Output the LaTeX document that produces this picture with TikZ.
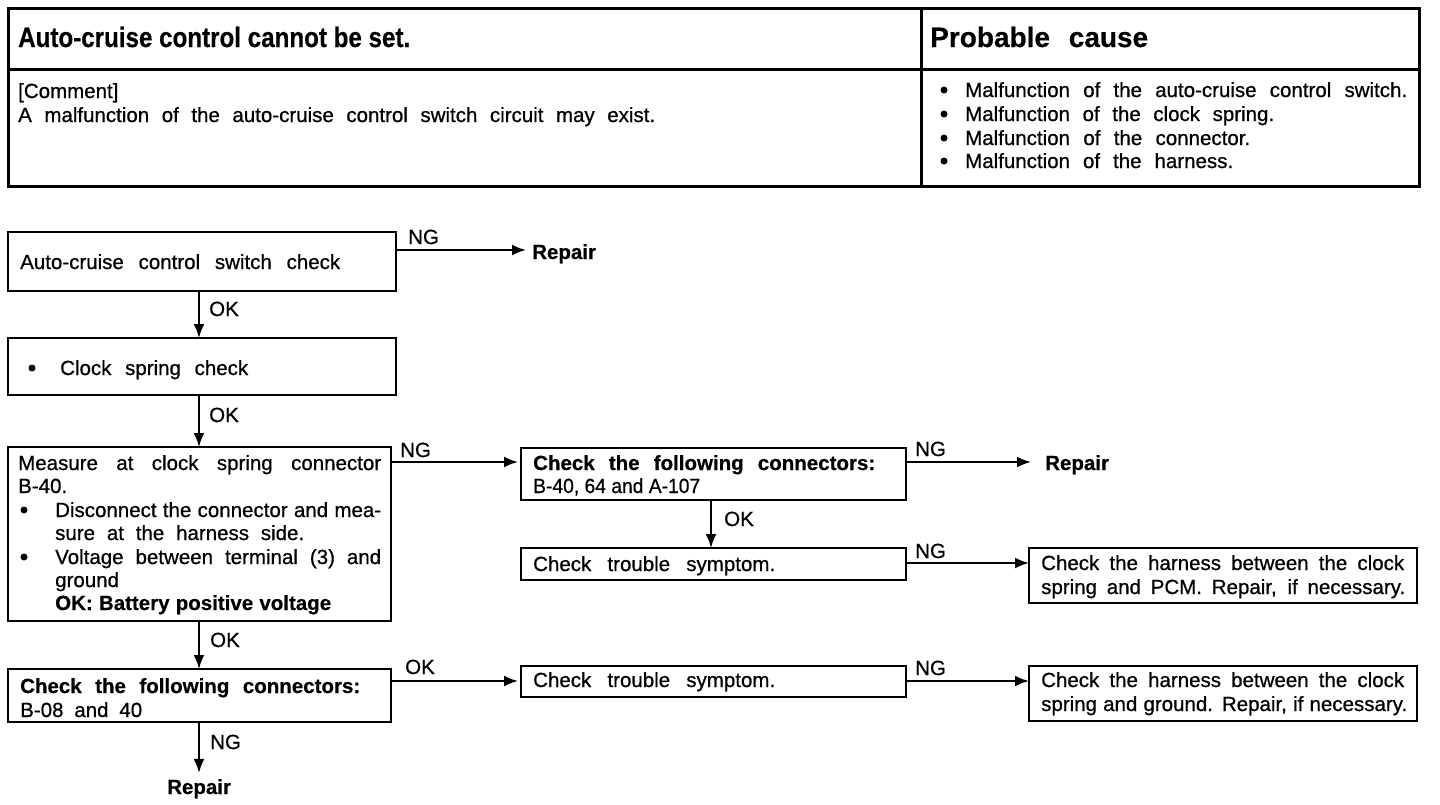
\documentclass[tikz,border=0pt]{standalone}
\usepackage{fontspec}
\setmainfont{Liberation Sans}
\newfontfamily\regf{Liberation Sans}[FakeBold=0.7]
\newfontfamily\boldf{Liberation Sans Bold}[FakeBold=0.5]
\usepackage{graphicx}
\usetikzlibrary{arrows.meta}
\newlength\fitnat
\newcommand\fitline[2]{\settowidth\fitnat{#2}\ifdim\fitnat>#1\relax\resizebox{#1}{\height}{#2}\else\makebox[#1][s]{#2}\fi}
\begin{document}
\begin{tikzpicture}[x=1pt,y=-1pt,
  box/.style={draw, line width=2.6pt, rectangle, inner sep=0pt, outer sep=0pt, anchor=north west},
  hbox/.style={box, line width=3pt},
  txt/.style={inner sep=0pt, anchor=base west, font=\fontsize{20.5}{23}\regf},
  btxt/.style={txt, font=\fontsize{20.5}{23}\boldf},
  htxt/.style={txt, font=\fontsize{28}{30}\boldf},
  dot/.style={circle, fill, inner sep=0pt, minimum size=7pt},
  flow/.style={line width=2pt, -{Latex[length=14pt,width=11pt]}},
  thin/.style={line width=3pt}
]
\useasboundingbox (0,0) rectangle (1440,804);

% ---------- header table ----------
\node[hbox, minimum width=1411pt, minimum height=178pt] (hdr) at (8,8) {};
\coordinate (hrow) at (8,69);
\coordinate (hcol) at (921,8);
\draw[thin] (hdr.west |- hrow) -- (hdr.east |- hrow);
\draw[thin] (hdr.north -| hcol) -- (hdr.south -| hcol);

\node[htxt] (title) at (18,47) {\fitline{392pt}{Auto-cruise control cannot be set.}};
\node[htxt] (pc) at (930,47) {\fitline{218pt}{Probable cause}};
\node[txt] (cm1) at (18,98) {[Comment]};
\node[txt] (cm2) at (18,122) {\fitline{637pt}{A malfunction of the auto-cruise control switch circuit may exist.}};
\node[dot] (pb1) at (944,90) {};
\node[txt] (pc1) at (965,97) {\fitline{442pt}{Malfunction of the auto-cruise control switch.}};
\node[dot] (pb2) at (944,114) {};
\node[txt] (pc2) at (965,121) {\fitline{309pt}{Malfunction of the clock spring.}};
\node[dot] (pb3) at (944,138) {};
\node[txt] (pc3) at (965,145) {\fitline{285pt}{Malfunction of the connector.}};
\node[dot] (pb4) at (944,161) {};
\node[txt] (pc4) at (965,168) {\fitline{268pt}{Malfunction of the harness.}};

% ---------- flowchart boxes ----------
\node[box, minimum width=388pt, minimum height=59pt] (b1) at (8,232) {};
\node[txt] (t1) at (20,269) {\fitline{320pt}{Auto-cruise control switch check}};

\node[box, minimum width=388pt, minimum height=57pt] (b2) at (8,338) {};
\node[dot] (t2b) at (32,368) {};
\node[txt] (t2) at (60,375) {\fitline{188pt}{Clock spring check}};

\node[box, minimum width=383pt, minimum height=174pt] (b3) at (8,447) {};
\node[txt] (t3a) at (18,470) {\fitline{363pt}{Measure at clock spring connector}};
\node[txt] (t3b) at (18,493) {B-40.};
\node[dot] (t3c) at (24,510) {};
\node[txt] (t3d) at (55,517) {\fitline{326pt}{Disconnect the connector and mea-}};
\node[txt] (t3e) at (55,540) {\fitline{249pt}{sure at the harness side.}};
\node[dot] (t3f) at (24,557) {};
\node[txt] (t3g) at (55,564) {\fitline{326pt}{Voltage between terminal (3) and}};
\node[txt] (t3h) at (55,587) {ground};
\node[btxt] (t3i) at (55,610) {\fitline{276pt}{OK: Battery positive voltage}};

\node[box, minimum width=385pt, minimum height=52pt] (b4) at (521,448) {};
\node[btxt] (t4a) at (533,470) {\fitline{342pt}{Check the following connectors:}};
\node[txt] (t4b) at (533,493) {\fitline{167pt}{B-40, 64 and A-107}};

\node[box, minimum width=385pt, minimum height=32pt] (b5) at (521,548) {};
\node[txt] (t5) at (533,571) {\fitline{242pt}{Check trouble symptom.}};

\node[box, minimum width=388pt, minimum height=55pt] (b6) at (1029,548) {};
\node[txt] (t6a) at (1041,570) {\fitline{363pt}{Check the harness between the clock}};
\node[txt] (t6b) at (1041,594) {\fitline{364pt}{spring and PCM. Repair, if necessary.}};

\node[box, minimum width=383pt, minimum height=53pt] (b7) at (8,669) {};
\node[btxt] (t7a) at (20,693) {\fitline{340pt}{Check the following connectors:}};
\node[txt] (t7b) at (20,717) {\fitline{122pt}{B-08 and 40}};

\node[box, minimum width=385pt, minimum height=31pt] (b8) at (521,666) {};
\node[txt] (t8) at (533,687) {\fitline{242pt}{Check trouble symptom.}};

\node[box, minimum width=388pt, minimum height=55pt] (b9) at (1029,666) {};
\node[txt] (t9a) at (1041,687) {\fitline{363pt}{Check the harness between the clock}};
\node[txt] (t9b) at (1041,711) {\fitline{366pt}{spring and ground. Repair, if necessary.}};

% ---------- Repair targets ----------
\node[btxt] (r1) at (532,259) {Repair};
\node[btxt] (r2) at (1045,470) {Repair};
\node[btxt] (r3) at (167,794) {Repair};

% ---------- connectors ----------
\coordinate (n1) at ([yshift=-18pt]b1.north east);
\draw[flow, shorten >=6pt] (n1) -- (r1.west |- n1);
\node[txt] (l1) at (408,244) {NG};

\coordinate (c199) at (199,0);
\draw[flow] (b1.south -| c199) -- (b2.north -| c199);
\node[txt] (l2) at (209,316) {OK};

\draw[flow] (b2.south -| c199) -- (b3.north -| c199);
\node[txt] (l3) at (209,422) {OK};

\coordinate (n4) at ([yshift=-14pt]b4.north west);
\draw[flow, shorten >=3pt] (b3.east |- n4) -- (n4);
\node[txt] (l4) at (400,457) {NG};

\draw[flow, shorten >=14pt] (b4.east |- n4) -- (r2.west |- n4);
\node[txt] (l5) at (915,456) {NG};

\coordinate (n5) at (711,0);
\draw[flow] (b4.south -| n5) -- (b5.north -| n5);
\node[txt] (l6) at (724,526) {OK};

\draw[flow] (b5.east |- b6.north) ++(0,15) coordinate (n6) -- (b6.west |- n6);
\node[txt] (l7) at (915,558) {NG};

\draw[flow] (b3.south -| c199) -- (b7.north -| c199);
\node[txt] (l8) at (210,647) {OK};

\coordinate (n8) at ([yshift=-15pt]b8.north west);
\draw[flow, shorten >=3pt] (b7.east |- n8) -- (n8);
\node[txt] (l9) at (405,674) {OK};

\draw[flow] (b8.east |- n8) -- (b9.west |- n8);
\node[txt] (l10) at (915,675) {NG};

\draw[flow, shorten >=6pt] (b7.south -| c199) -- (r3.north -| c199);
\node[txt] (l11) at (210,749) {NG};
\end{tikzpicture}
\end{document}
